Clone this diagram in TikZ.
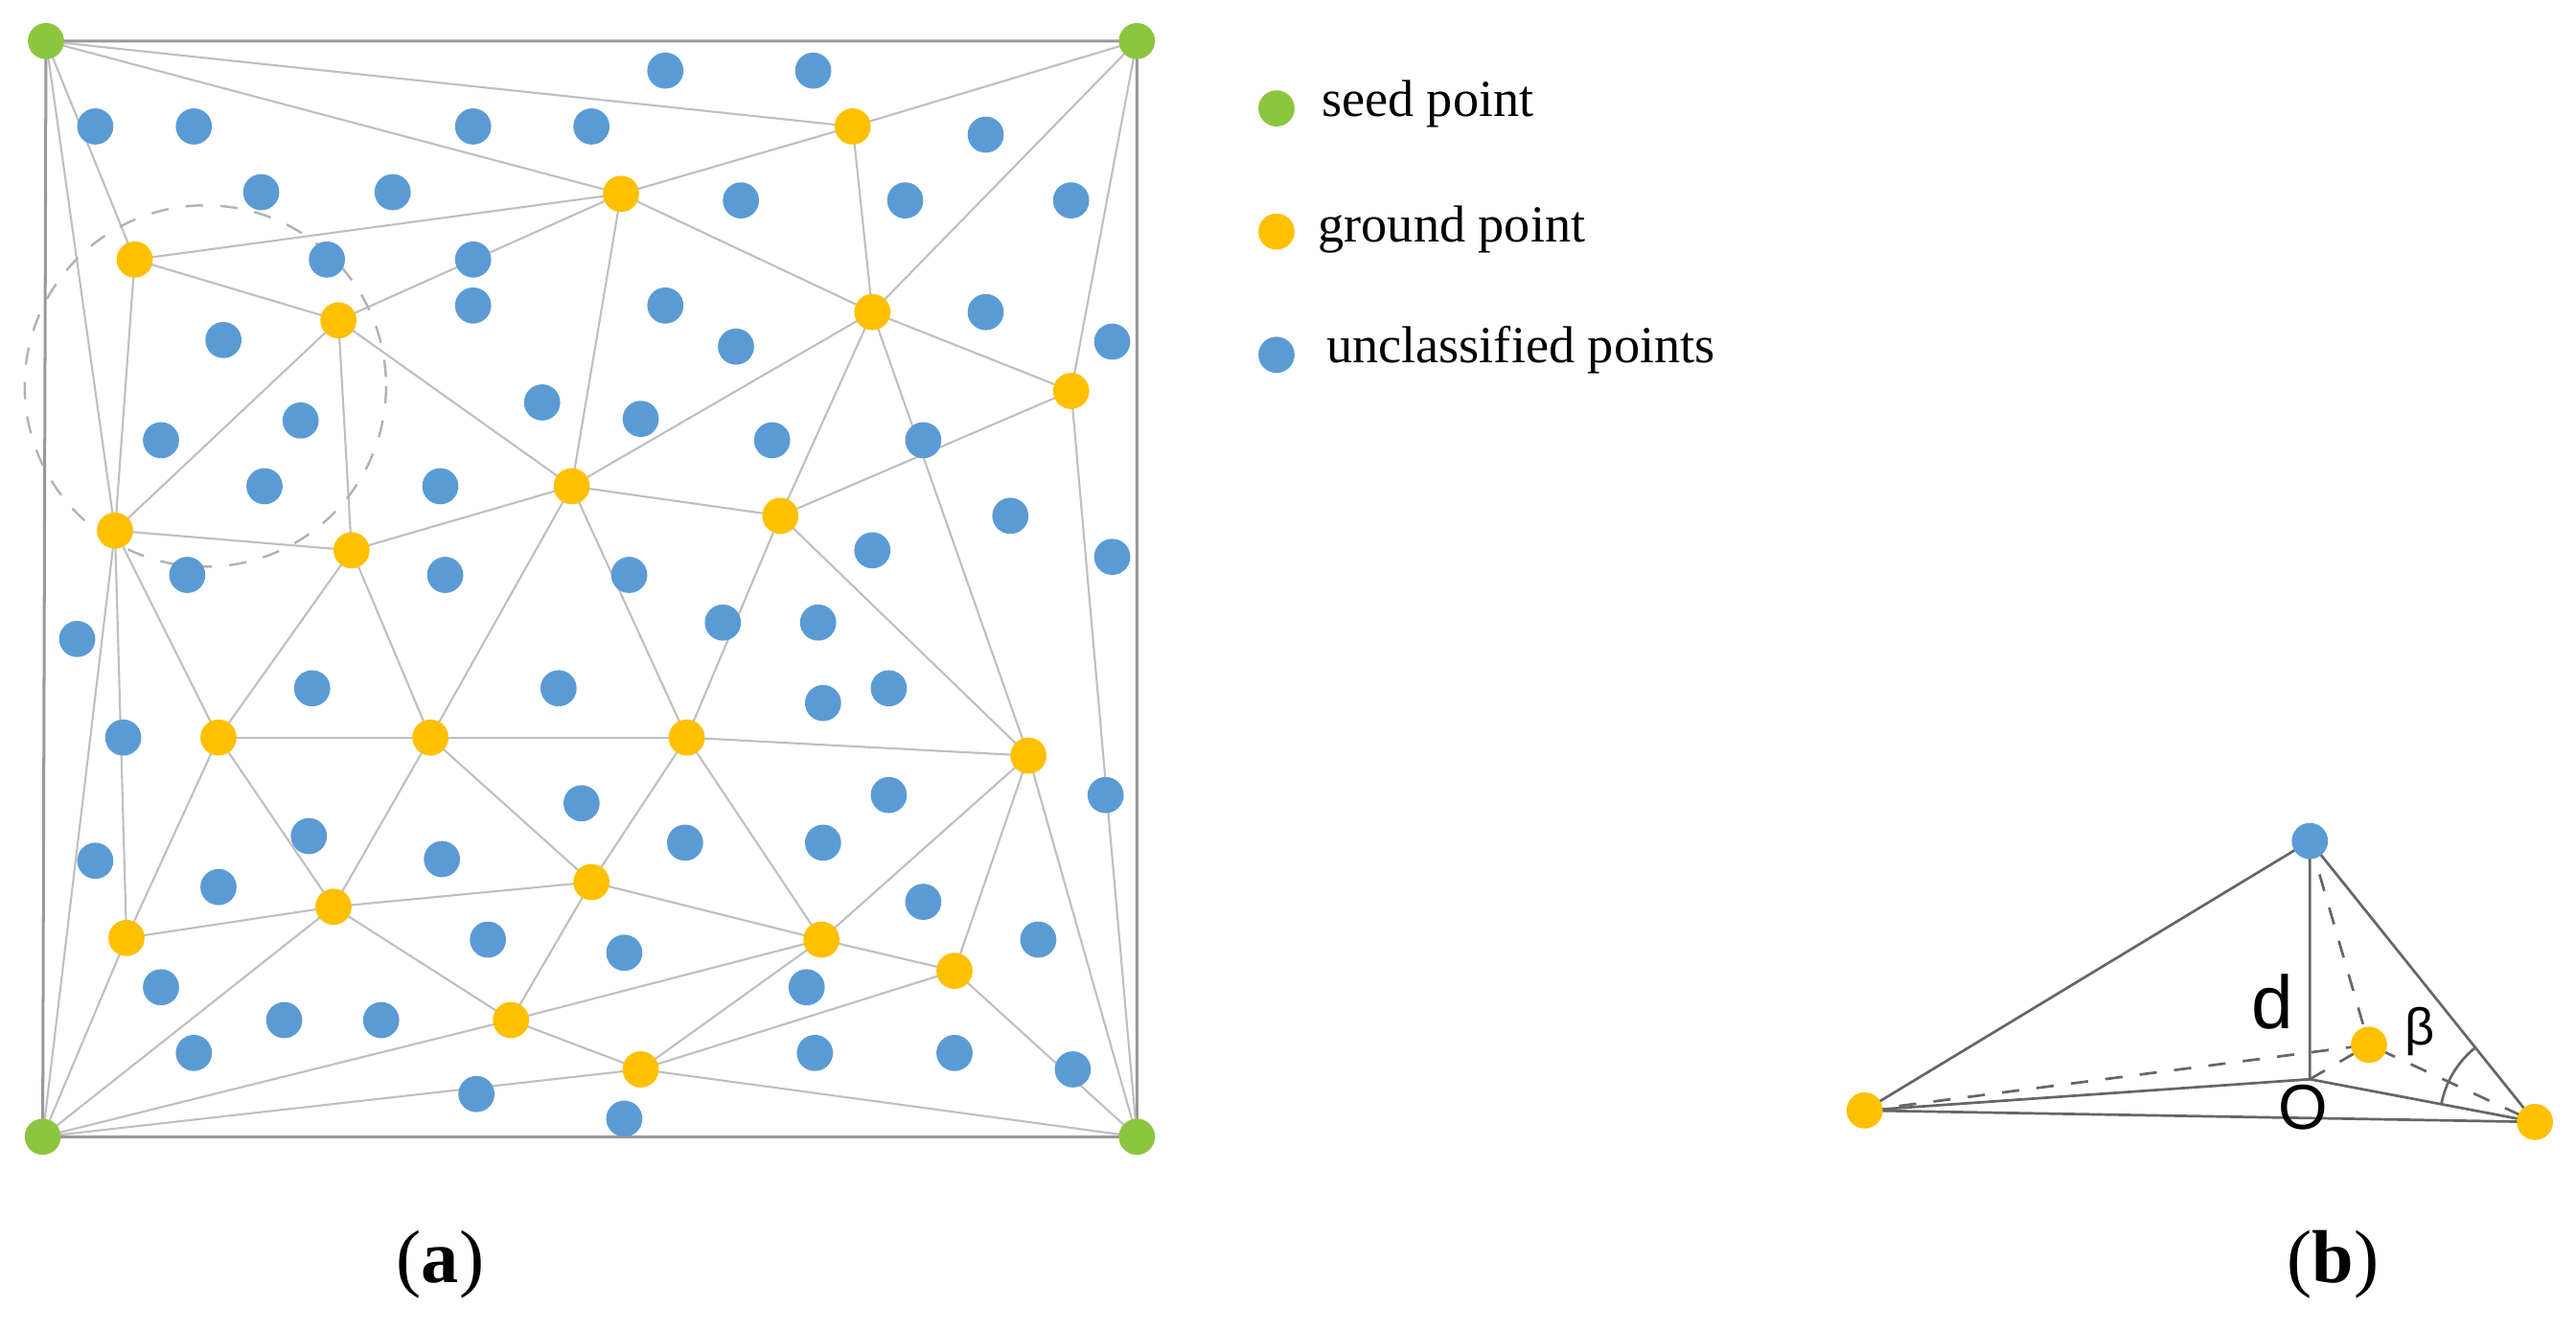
\documentclass[tikz,border=0pt]{standalone}
\usepackage{fontspec}
\setmainfont{Liberation Serif}
\setsansfont{Liberation Sans}
\begin{document}
\begin{tikzpicture}[x=0.01cm,y=-0.01cm,
 e/.style={draw=black!25,line width=0.35pt},
 dot/.style={circle,inner sep=0pt,minimum size=0.22cm},
 lab/.style={font=\fontsize{9}{10}\selectfont,anchor=west}]
\useasboundingbox (0,0) rectangle (1568,810);
\definecolor{sg}{HTML}{8CC63F}\definecolor{og}{HTML}{FFC000}\definecolor{ub}{HTML}{5B9BD5}
\tikzset{sd/.style={dot,fill=sg},gd/.style={dot,fill=og},ud/.style={dot,fill=ub}}
\foreach \n/\x/\y in {s1/28/25,s2/692/25,s3/26/692,s4/692/692,
g1/82/158,g2/206/195,g3/378/118,g4/519/77,g5/531/190,g6/652/238,g7/70/323,g8/214/335,g9/348/296,g10/475/314,g11/133/449,g12/262/449,g13/418/449,g14/626/460,g15/77/571,g16/203/552,g17/360/537,g18/500/572,g19/581/591,g20/311/621,g21/390/651}
 \coordinate (\n) at (\x,\y);
\draw[draw=black!40,line width=0.5pt] (s1)--(s2)--(s4)--(s3)--cycle;
\foreach \a/\b in {s1/g4,s1/g3,s1/g1,s1/g7,g4/s2,g4/g3,g4/g5,s2/g5,s2/g6,g3/g1,g3/g2,g3/g9,g3/g5,g1/g2,g1/g7,g2/g7,g2/g8,g2/g9,g5/g9,g5/g10,g5/g6,g6/g10,g6/s4,g5/g14,g7/g8,g7/g11,g7/g15,g7/s3,g8/g9,g8/g11,g8/g12,g9/g10,g9/g12,g9/g13,g10/g13,g10/g14,g11/g12,g11/g15,g11/g16,g12/g13,g12/g16,g12/g17,g13/g14,g13/g17,g13/g18,g14/g18,g14/g19,g14/s4,g15/g16,g15/s3,g16/s3,g16/g20,g16/g17,g17/g20,g17/g18,g18/g20,g18/g21,g18/g19,g19/g21,g19/s4,g20/s3,g20/g21,g21/s3,g21/s4}
 \draw[e] (\a)--(\b);
\draw[dashed,draw=black!30,line width=0.4pt] (125,235) circle[radius=110];
\foreach \n in {s1,s2,s3,s4} \node[sd] (n\n) at (\n) {};
\foreach \i in {1,...,21} \node[gd] (ng\i) at (g\i) {};
\foreach \x/\y [count=\i] in {405/43,495/43,58/77,118/77,288/77,360/77,600/82,159/117,239/117,451/122,551/122,652/122,199/158,288/158,136/207,288/186,405/186,448/211,600/190,677/208,98/268,183/256,330/245,390/255,470/268,562/268,161/296,268/296,615/314,531/335,677/339,114/350,271/350,383/350,47/389,440/379,498/379,190/419,340/419,501/428,541/419,75/449,354/489,541/484,673/484,188/509,269/523,417/513,501/513,58/524,133/540,562/549,297/572,380/580,632/572,98/601,491/601,173/621,232/621,118/641,496/641,581/641,653/651,290/666,380/681}
 \node[ud] (u\i) at (\x,\y) {};
% legend
\node[sd] (ls) at (777,66) {}; \node[lab] (lst) at (792,63) {seed point};
\node[gd] (lg) at (777,141) {}; \node[lab] (lgt) at (790,140) {ground point};
\node[ud] (lu) at (777,216) {}; \node[lab] (lut) at (795,213) {unclassified points};
% panel b
\coordinate (B) at (1406,512); \coordinate (L) at (1135,676); \coordinate (R) at (1543,683);
\coordinate (M) at (1442,636); \coordinate (O) at (1406,657);
\draw[draw=black!60,line width=0.45pt] (B)--(L)--(R)--cycle (B)--(O) (L)--(O)--(R);
\draw[dashed,draw=black!60,line width=0.45pt] (B)--(M) (L)--(M)--(R) (O)--(M);
\draw[draw=black!60,line width=0.45pt] (R) ++(-129:58) arc[start angle=-129,end angle=-169,radius=58];
\node[ud] (nB) at (B) {}; \node[gd] (nL) at (L) {}; \node[gd] (nR) at (R) {}; \node[gd] (nM) at (M) {};
\node[font=\sffamily\fontsize{13}{14}\selectfont] (td) at (1383,610) {d};
\node[font=\sffamily\fontsize{11}{12}\selectfont] (tO) at (1402,674) {O};
\node[font=\sffamily\fontsize{9}{11}\selectfont] (tb) at (1473,628) {β};
\node[font=\fontsize{13}{15}\selectfont] (ta) at (268,770) {(\textbf{a})};
\node[font=\fontsize{13}{15}\selectfont] (tbb) at (1420,770) {(\textbf{b})};
\end{tikzpicture}
\end{document}
